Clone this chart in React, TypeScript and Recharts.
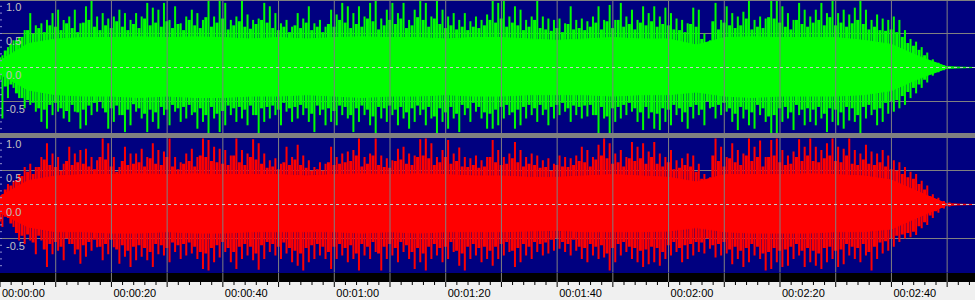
import React from "react";
import {
  ComposedChart,
  Bar,
  Area,
  XAxis,
  YAxis,
  CartesianGrid,
  ReferenceLine,
} from "recharts";

// peak values per second (t = 0..174), left (green) and right (red) channel
const greenHi = [
  0.18, 0.30, 0.40, 0.45, 0.55, 0.80, 0.62, 0.65, 0.70, 0.80, 0.85, 0.70, 0.75, 0.85, 0.65, 0.90, 1.00, 0.75, 0.80, 0.72, 0.75, 0.85, 0.80, 0.70, 0.80, 0.75, 0.95, 0.88, 0.85,
  0.95, 0.70, 0.90, 0.65, 0.75, 0.85, 0.80, 0.70, 1.00, 0.75, 1.00, 0.95, 0.70, 0.75, 0.98, 0.78, 0.70, 0.72, 0.95, 0.90, 0.80, 0.65, 0.70, 0.60, 0.80, 0.72, 0.90, 0.65, 0.70, 0.60,
  0.85, 0.78, 0.95, 0.90, 0.80, 0.90, 0.75, 0.95, 1.00, 0.72, 0.85, 0.95, 0.80, 0.95, 0.70, 0.85, 1.00, 0.95, 0.75, 1.00, 0.85, 0.75, 0.80, 0.70, 0.80, 0.68, 0.75, 0.70, 0.78,
  1.00, 0.95, 1.00, 0.75, 0.90, 0.85, 0.70, 0.75, 1.00, 0.75, 0.72, 0.70, 0.72, 0.65, 0.90, 0.70, 0.72, 0.68, 0.75, 0.90, 0.70, 0.92, 0.70, 0.95, 0.75, 0.85, 0.70, 0.90, 0.80,
  0.90, 0.75, 0.88, 0.80, 0.72, 0.70, 0.65, 0.88, 0.85, 0.50, 0.40, 0.95, 0.70, 0.90, 0.80, 0.75, 0.82, 1.00, 0.70, 0.75, 0.72, 1.00, 1.00, 0.90, 0.80, 0.70, 0.95, 0.85, 0.75,
  0.85, 0.95, 0.80, 1.00, 0.80, 0.85, 0.78, 0.88, 0.98, 0.85, 0.70, 0.78, 0.72, 0.70, 0.75, 0.70, 0.55, 0.42, 0.38, 0.30, 0.22, 0.12, 0.07, 0.03, 0.02, 0.01, 0, 0, 0,
];
const greenLo = [
  -0.75, -0.45, -0.30, -0.45, -0.60, -0.55, -0.65, -0.80, -0.90, -0.70, -0.65, -0.75, -0.80, -0.65, -0.90, -0.85, -0.70, -0.65, -0.60, -0.90, -0.80, -0.70, -0.95, -0.85, -0.65, -0.75, -0.95, -0.80, -0.90,
  -0.70, -0.85, -0.65, -0.80, -0.75, -0.70, -0.90, -0.80, -0.98, -0.75, -0.95, -0.85, -0.70, -0.80, -0.75, -0.85, -0.70, -0.98, -0.80, -0.75, -0.70, -0.85, -0.65, -0.80, -0.75, -0.70, -0.80, -0.95, -0.70, -0.85,
  -0.80, -0.85, -0.70, -0.75, -0.95, -0.80, -0.70, -0.85, -0.98, -0.75, -0.80, -0.70, -0.85, -0.75, -0.90, -0.80, -0.70, -0.85, -0.75, -0.98, -0.80, -0.90, -0.75, -0.95, -0.70, -0.80, -0.65, -0.75, -0.90,
  -0.90, -0.85, -0.75, -0.70, -0.90, -0.85, -0.75, -0.70, -0.80, -0.70, -0.85, -0.75, -0.70, -0.65, -0.80, -0.70, -0.75, -0.72, -0.70, -0.98, -0.75, -1.00, -0.80, -0.75, -0.70, -0.65, -0.80, -0.92, -0.75,
  -0.90, -0.92, -0.80, -0.85, -0.70, -0.80, -0.90, -0.75, -0.70, -0.85, -0.60, -0.75, -0.70, -0.65, -0.80, -0.92, -0.75, -0.85, -0.90, -0.70, -0.80, -1.00, -0.98, -0.80, -0.75, -0.92, -0.70, -0.85, -0.80,
  -0.85, -0.75, -0.95, -0.80, -0.85, -0.90, -0.78, -0.80, -0.98, -0.75, -0.70, -0.85, -0.80, -0.68, -0.65, -0.60, -0.55, -0.45, -0.38, -0.30, -0.22, -0.12, -0.07, -0.04, -0.02, -0.01, 0, 0, 0,
];
const redHi = [
  0.15, 0.30, 0.35, 0.45, 0.55, 0.60, 0.55, 0.70, 0.90, 0.75, 0.70, 0.60, 0.85, 0.75, 0.80, 0.82, 0.70, 0.65, 0.97, 0.90, 0.70, 0.55, 0.85, 0.75, 0.75, 0.82, 0.70, 0.90, 0.80,
  0.78, 0.97, 0.70, 0.62, 0.75, 0.82, 0.70, 0.97, 0.95, 0.85, 0.82, 0.80, 0.72, 0.97, 0.80, 0.75, 0.96, 0.90, 0.75, 0.65, 0.68, 0.60, 0.85, 0.70, 0.88, 0.72, 0.65, 0.55, 0.62, 0.60,
  0.85, 0.70, 0.75, 0.78, 0.80, 0.97, 0.70, 0.75, 0.97, 0.72, 0.68, 0.65, 0.82, 0.85, 0.75, 0.72, 0.96, 0.97, 0.90, 0.70, 0.80, 0.95, 0.75, 0.84, 0.70, 0.68, 0.72, 0.65, 0.70,
  0.95, 0.80, 0.70, 0.75, 0.92, 0.80, 0.70, 0.75, 0.72, 0.65, 0.68, 0.60, 0.72, 0.70, 0.68, 0.72, 0.85, 0.80, 0.70, 0.88, 0.97, 0.90, 0.75, 0.80, 0.70, 0.92, 0.85, 0.90, 0.78,
  0.92, 0.75, 0.70, 0.80, 0.65, 0.68, 0.75, 0.72, 0.60, 0.45, 0.40, 0.97, 0.85, 0.70, 0.90, 0.80, 0.75, 0.97, 0.85, 0.94, 0.70, 0.95, 0.97, 0.80, 0.72, 0.78, 0.96, 0.85, 0.97,
  0.85, 0.80, 0.90, 0.97, 0.85, 0.82, 0.97, 0.80, 0.75, 0.88, 0.78, 0.75, 0.80, 0.72, 0.65, 0.62, 0.55, 0.48, 0.45, 0.35, 0.28, 0.15, 0.10, 0.05, 0.03, 0.01, 0, 0, 0,
];
const redLo = [
  -0.33, -0.20, -0.33, -0.53, -0.58, -0.53, -0.73, -0.53, -0.92, -0.73, -0.68, -0.82, -0.58, -0.73, -0.87, -0.77, -0.68, -0.63, -0.82, -0.73, -0.63, -0.87, -0.77, -0.92, -0.82, -0.77, -0.82, -0.92, -0.73,
  -0.75, -0.85, -0.70, -0.80, -0.75, -0.72, -0.80, -0.95, -0.97, -0.85, -0.78, -0.70, -0.85, -0.95, -0.80, -0.75, -0.82, -0.96, -0.80, -0.70, -0.75, -0.80, -0.72, -0.85, -0.90, -0.97, -0.85, -0.80, -0.75, -0.80,
  -0.95, -0.80, -0.75, -0.85, -0.80, -0.97, -0.75, -0.80, -0.70, -0.97, -0.80, -0.75, -0.85, -0.70, -0.80, -0.95, -0.85, -0.97, -0.80, -0.75, -0.85, -0.80, -0.70, -0.90, -0.97, -0.80, -0.75, -0.85, -0.80,
  -0.90, -0.80, -0.75, -0.70, -0.92, -0.85, -0.75, -0.80, -0.70, -0.75, -0.72, -0.68, -0.65, -0.70, -0.75, -0.68, -0.80, -0.85, -0.75, -0.80, -0.78, -0.97, -0.85, -0.75, -0.70, -0.80, -0.85, -0.92, -0.88,
  -0.85, -0.90, -0.80, -0.75, -0.70, -0.85, -0.80, -0.75, -0.70, -0.72, -0.65, -0.78, -0.75, -0.72, -0.88, -0.80, -0.92, -0.85, -0.75, -0.80, -0.97, -0.95, -0.85, -0.92, -0.90, -0.80, -0.75, -0.92, -0.85,
  -0.90, -0.95, -0.85, -0.80, -0.92, -0.88, -0.75, -0.80, -0.85, -0.75, -0.97, -0.80, -0.72, -0.68, -0.62, -0.55, -0.50, -0.48, -0.45, -0.35, -0.30, -0.20, -0.12, -0.06, -0.03, -0.01, 0, 0, 0,
];

// secondary (lower) peaks, on the whole seconds between the main peaks
const greenMidHi = [
  0.15, 0.25, 0.35, 0.40, 0.45, 0.55, 0.50, 0.58, 0.52, 0.62, 0.60, 0.55, 0.65, 0.58, 0.52, 0.66, 0.70, 0.60, 0.55, 0.62, 0.58, 0.68, 0.60, 0.55, 0.64, 0.58, 0.72, 0.62, 0.66, 0.60,
  0.68, 0.58, 0.64, 0.55, 0.70, 0.62, 0.58, 0.74, 0.60, 0.66, 0.72, 0.56, 0.62, 0.68, 0.60, 0.57, 0.64, 0.70, 0.66, 0.58, 0.55, 0.60, 0.52, 0.62, 0.58, 0.66, 0.55, 0.60, 0.52, 0.64,
  0.60, 0.70, 0.66, 0.58, 0.64, 0.60, 0.72, 0.68, 0.56, 0.62, 0.70, 0.64, 0.72, 0.58, 0.62, 0.74, 0.70, 0.60, 0.72, 0.64, 0.58, 0.62, 0.56, 0.60, 0.55, 0.60, 0.58, 0.62, 0.70, 0.66,
  0.72, 0.60, 0.66, 0.62, 0.55, 0.60, 0.70, 0.58, 0.56, 0.54, 0.58, 0.52, 0.64, 0.56, 0.58, 0.55, 0.60, 0.66, 0.56, 0.68, 0.58, 0.70, 0.60, 0.64, 0.56, 0.66, 0.62, 0.68, 0.60, 0.64,
  0.62, 0.56, 0.55, 0.52, 0.64, 0.60, 0.42, 0.36, 0.68, 0.56, 0.66, 0.62, 0.58, 0.62, 0.72, 0.56, 0.60, 0.58, 0.74, 0.72, 0.66, 0.60, 0.56, 0.70, 0.64, 0.60, 0.66, 0.70, 0.62, 0.74,
  0.62, 0.66, 0.60, 0.65, 0.70, 0.64, 0.56, 0.60, 0.55, 0.54, 0.56, 0.52, 0.45, 0.36, 0.32, 0.26, 0.18, 0.10, 0.05, 0.02, 0.015, 0.01, 0, 0, 0,
];
const greenMidLo = [
  -0.18, -0.28, -0.25, -0.38, -0.45, -0.48, -0.52, -0.60, -0.62, -0.55, -0.52, -0.60, -0.64, -0.55, -0.66, -0.62, -0.56, -0.52, -0.50, -0.66, -0.60, -0.56, -0.70, -0.62, -0.54, -0.60, -0.68, -0.62, -0.66, -0.58,
  -0.62, -0.55, -0.60, -0.58, -0.55, -0.66, -0.60, -0.70, -0.58, -0.68, -0.64, -0.56, -0.60, -0.58, -0.62, -0.56, -0.70, -0.60, -0.58, -0.56, -0.62, -0.52, -0.60, -0.58, -0.55, -0.60, -0.68, -0.56, -0.62, -0.60,
  -0.64, -0.56, -0.58, -0.70, -0.60, -0.56, -0.62, -0.72, -0.58, -0.60, -0.56, -0.62, -0.58, -0.66, -0.60, -0.56, -0.62, -0.58, -0.72, -0.60, -0.66, -0.58, -0.68, -0.55, -0.60, -0.52, -0.58, -0.66, -0.68, -0.62,
  -0.58, -0.55, -0.66, -0.62, -0.58, -0.55, -0.60, -0.55, -0.62, -0.58, -0.55, -0.52, -0.60, -0.56, -0.58, -0.56, -0.55, -0.70, -0.58, -0.72, -0.60, -0.58, -0.55, -0.52, -0.60, -0.66, -0.58, -0.66, -0.68, -0.60,
  -0.62, -0.55, -0.60, -0.66, -0.58, -0.55, -0.62, -0.50, -0.58, -0.55, -0.52, -0.60, -0.68, -0.58, -0.62, -0.66, -0.55, -0.60, -0.72, -0.70, -0.60, -0.58, -0.66, -0.55, -0.62, -0.60, -0.62, -0.58, -0.68, -0.60,
  -0.62, -0.66, -0.58, -0.60, -0.70, -0.58, -0.55, -0.62, -0.60, -0.52, -0.50, -0.48, -0.42, -0.36, -0.30, -0.25, -0.18, -0.10, -0.05, -0.03, -0.015, -0.01, 0, 0, 0,
];
const redMidHi = [
  0.12, 0.22, 0.28, 0.36, 0.42, 0.48, 0.45, 0.55, 0.66, 0.58, 0.55, 0.50, 0.64, 0.58, 0.62, 0.60, 0.56, 0.52, 0.70, 0.66, 0.56, 0.48, 0.64, 0.58, 0.60, 0.62, 0.56, 0.68, 0.60, 0.58,
  0.70, 0.56, 0.52, 0.60, 0.64, 0.56, 0.72, 0.70, 0.64, 0.62, 0.60, 0.58, 0.72, 0.62, 0.58, 0.70, 0.66, 0.60, 0.54, 0.56, 0.52, 0.62, 0.58, 0.66, 0.58, 0.54, 0.50, 0.52, 0.50, 0.62,
  0.58, 0.60, 0.62, 0.64, 0.72, 0.56, 0.60, 0.72, 0.58, 0.55, 0.54, 0.64, 0.66, 0.60, 0.58, 0.70, 0.72, 0.68, 0.58, 0.62, 0.70, 0.60, 0.64, 0.56, 0.55, 0.58, 0.54, 0.56, 0.70, 0.62,
  0.58, 0.60, 0.68, 0.62, 0.56, 0.60, 0.58, 0.54, 0.55, 0.50, 0.58, 0.56, 0.55, 0.58, 0.64, 0.62, 0.56, 0.66, 0.72, 0.68, 0.60, 0.62, 0.56, 0.68, 0.64, 0.68, 0.60, 0.70, 0.60, 0.56,
  0.62, 0.52, 0.54, 0.58, 0.56, 0.48, 0.38, 0.34, 0.72, 0.64, 0.56, 0.68, 0.62, 0.58, 0.72, 0.64, 0.70, 0.56, 0.70, 0.72, 0.62, 0.58, 0.60, 0.70, 0.64, 0.72, 0.64, 0.62, 0.68, 0.72,
  0.64, 0.62, 0.72, 0.60, 0.58, 0.66, 0.60, 0.58, 0.62, 0.56, 0.52, 0.50, 0.45, 0.40, 0.38, 0.30, 0.22, 0.12, 0.08, 0.04, 0.02, 0.01, 0, 0, 0,
];
const redMidLo = [
  -0.25, -0.18, -0.28, -0.42, -0.46, -0.44, -0.56, -0.46, -0.66, -0.58, -0.55, -0.62, -0.50, -0.58, -0.66, -0.60, -0.55, -0.52, -0.62, -0.58, -0.52, -0.66, -0.60, -0.68, -0.62, -0.60, -0.64, -0.70, -0.58, -0.60,
  -0.64, -0.56, -0.60, -0.58, -0.56, -0.62, -0.70, -0.72, -0.64, -0.60, -0.55, -0.64, -0.70, -0.62, -0.58, -0.62, -0.72, -0.60, -0.55, -0.58, -0.62, -0.56, -0.64, -0.68, -0.72, -0.64, -0.60, -0.58, -0.62, -0.70,
  -0.62, -0.58, -0.64, -0.60, -0.72, -0.58, -0.62, -0.55, -0.72, -0.62, -0.58, -0.64, -0.55, -0.60, -0.70, -0.64, -0.72, -0.62, -0.58, -0.64, -0.62, -0.55, -0.68, -0.72, -0.62, -0.58, -0.64, -0.62, -0.68, -0.62,
  -0.58, -0.55, -0.68, -0.64, -0.58, -0.62, -0.55, -0.58, -0.56, -0.52, -0.50, -0.55, -0.58, -0.52, -0.62, -0.64, -0.58, -0.62, -0.60, -0.72, -0.64, -0.58, -0.55, -0.62, -0.64, -0.68, -0.66, -0.62, -0.64, -0.70,
  -0.60, -0.55, -0.64, -0.60, -0.58, -0.55, -0.56, -0.50, -0.60, -0.58, -0.55, -0.66, -0.62, -0.68, -0.64, -0.58, -0.62, -0.72, -0.70, -0.64, -0.68, -0.66, -0.62, -0.58, -0.68, -0.64, -0.68, -0.72, -0.64, -0.62,
  -0.68, -0.66, -0.58, -0.62, -0.64, -0.58, -0.70, -0.62, -0.56, -0.54, -0.50, -0.46, -0.44, -0.42, -0.40, -0.32, -0.26, -0.16, -0.10, -0.05, -0.02, -0.01, 0, 0, 0,
];

// solid core of the waveform, every 5 seconds
const bodyTimes = [0, 5, 10, 15, 20, 25, 30, 35, 40, 45, 50, 55, 60, 65, 70, 75, 80, 85, 90, 95, 100, 105, 110, 115, 120, 125, 130, 135, 140, 145, 150, 155, 160, 165, 170, 175];
const greenBodyHi = [0.10, 0.35, 0.42, 0.44, 0.44, 0.45, 0.44, 0.45, 0.44, 0.42, 0.44, 0.42, 0.44, 0.45, 0.44, 0.44, 0.42, 0.44, 0.44, 0.42, 0.40, 0.42, 0.44, 0.42, 0.42, 0.33, 0.44, 0.45, 0.44, 0.44, 0.44, 0.40, 0.34, 0.16, 0.01, 0];
const greenBodyLo = [-0.10, -0.33, -0.40, -0.42, -0.42, -0.44, -0.42, -0.44, -0.44, -0.42, -0.42, -0.40, -0.42, -0.44, -0.42, -0.42, -0.40, -0.42, -0.42, -0.40, -0.40, -0.40, -0.42, -0.40, -0.40, -0.36, -0.42, -0.44, -0.42, -0.42, -0.42, -0.40, -0.34, -0.16, -0.01, 0];
const redBodyHi = [0.12, 0.35, 0.42, 0.44, 0.44, 0.45, 0.44, 0.45, 0.44, 0.44, 0.44, 0.42, 0.44, 0.45, 0.44, 0.45, 0.44, 0.42, 0.42, 0.40, 0.40, 0.42, 0.44, 0.42, 0.40, 0.33, 0.44, 0.44, 0.44, 0.45, 0.44, 0.42, 0.36, 0.18, 0.01, 0];
const redBodyLo = [-0.12, -0.33, -0.40, -0.40, -0.42, -0.42, -0.40, -0.42, -0.42, -0.40, -0.40, -0.40, -0.40, -0.42, -0.40, -0.42, -0.40, -0.40, -0.40, -0.39, -0.38, -0.40, -0.40, -0.40, -0.39, -0.34, -0.40, -0.42, -0.42, -0.42, -0.40, -0.40, -0.36, -0.18, -0.01, 0];

const gridTimes = [10, 20, 30, 40, 50, 60, 70, 80, 90, 100, 110, 120, 130, 140, 150, 160, 170];
const labelTimes = [0, 20, 40, 60, 80, 100, 120, 140, 160];
const rulerTicks = [
  0, 2, 4, 6, 8, 10, 12, 14, 16, 18, 20, 22, 24, 26, 28, 30, 32, 34, 36, 38, 40, 42, 44, 46, 48, 50, 52, 54, 56, 58,
  60, 62, 64, 66, 68, 70, 72, 74, 76, 78, 80, 82, 84, 86, 88, 90, 92, 94, 96, 98, 100, 102, 104, 106, 108, 110, 112, 114, 116, 118,
  120, 122, 124, 126, 128, 130, 132, 134, 136, 138, 140, 142, 144, 146, 148, 150, 152, 154, 156, 158, 160, 162, 164, 166, 168, 170, 172, 174,
];
const levelTicks = [0.9, 0.8, 0.7, 0.6, 0.4, 0.3, 0.2, 0.1, -0.1, -0.2, -0.3, -0.4, -0.6, -0.7, -0.8, -0.9];
const levelLabels = [1, 0.5, 0, -0.5];

const NAVY = "#000080";
const GRID = "#808080";
const FONT = "'Liberation Sans', Arial, sans-serif";

function pad(n: number) {
  return n < 10 ? "0" + n : String(n);
}

function fmtTime(s: number) {
  return `00:${pad(Math.floor(s / 60))}:${pad(s % 60)}`;
}

function RulerTick(props: any) {
  const { x, y, payload } = props;
  const v = payload.value;
  const big = v % 10 === 0;
  return (
    <g>
      <line x1={x} x2={x} y1={y} y2={y + (big ? 5 : 3)} stroke="#000" />
      {labelTimes.includes(v) && (
        <text x={x + 2} y={y + 15} fill="#000" fontSize={11} fontFamily={FONT}>
          {fmtTime(v)}
        </text>
      )}
    </g>
  );
}

function levelLabel(v: number) {
  return (p: any) => {
    const vb = p.viewBox || {};
    return (
      <g>
        <line x1={0} x2={2} y1={vb.y} y2={vb.y} stroke="#9090d0" />
        <text x={6} y={vb.y + 11} fill="#c0c0c0" fontSize={11} fontFamily={FONT}>
          {v.toFixed(1)}
        </text>
      </g>
    );
  };
}

function Channel({ hi, lo, midHi, midLo, bodyHi, bodyLo, color }: any) {
  const rows = hi.map((v: number, i: number) => ({
    tp: i + 0.5,
    tm: i,
    peak: [lo[i] ?? 0, v],
    mid: [midLo[i] ?? 0, midHi[i] ?? 0],
  }));
  const body = bodyTimes.map((t, i) => ({ tp: t, range: [bodyLo[i], bodyHi[i]] }));
  return (
    <ComposedChart
      width={975}
      height={137}
      data={rows}
      margin={{ top: 0.5, right: 0, bottom: 0.5, left: 0 }}
    >
      <CartesianGrid vertical={false} horizontalValues={[-1, -0.5, 0.5, 1]} stroke={GRID} />
      <XAxis xAxisId="p" type="number" dataKey="tp" domain={[0, 175]} hide allowDataOverflow />
      <XAxis xAxisId="m" type="number" dataKey="tm" domain={[0, 175]} hide allowDataOverflow />
      <YAxis type="number" domain={[-1, 1]} hide allowDataOverflow />
      <Area
        xAxisId="p"
        data={body}
        dataKey="range"
        type="linear"
        fill={color}
        fillOpacity={1}
        stroke={color}
        strokeWidth={1}
        isAnimationActive={false}
      />
      <Bar xAxisId="m" dataKey="mid" fill={color} barSize={3} isAnimationActive={false} />
      <Bar xAxisId="p" dataKey="peak" fill={color} barSize={2} isAnimationActive={false} />
      {gridTimes.map((t) => (
        <ReferenceLine key={t} xAxisId="p" x={t} stroke={GRID} />
      ))}
      <ReferenceLine xAxisId="p" y={0} stroke="#c8c8c8" strokeDasharray="3 3" />
      {levelTicks.map((v) => (
        <ReferenceLine
          key={"t" + v}
          xAxisId="p"
          segment={[{ x: 0, y: v }, { x: 0.36, y: v }]}
          stroke="#9090d0"
        />
      ))}
      {levelLabels.map((v) => (
        <ReferenceLine key={"l" + v} xAxisId="p" y={v} stroke="none" label={levelLabel(v)} />
      ))}
    </ComposedChart>
  );
}

export default function App() {
  const rulerData = rulerTicks.map((t) => ({ t }));
  return (
    <div
      style={{
        position: "absolute",
        left: 0,
        top: 0,
        width: 975,
        height: 300,
        background: "#f0f0f0",
        overflow: "hidden",
      }}
    >
      <div style={{ position: "absolute", left: 0, top: 0, width: 975, height: 133, background: NAVY, overflow: "hidden" }}>
        <div style={{ position: "absolute", left: 0, top: -1 }}>
          <Channel
            hi={greenHi}
            lo={greenLo}
            midHi={greenMidHi}
            midLo={greenMidLo}
            bodyHi={greenBodyHi}
            bodyLo={greenBodyLo}
            color="#00ff00"
          />
        </div>
        <div style={{ position: "absolute", left: 0, top: 0, width: 975, height: 1, background: GRID }} />
      </div>
      <div style={{ position: "absolute", left: 0, top: 133, width: 975, height: 5, background: GRID }} />
      <div style={{ position: "absolute", left: 0, top: 138, width: 975, height: 135, background: NAVY, overflow: "hidden" }}>
        <div style={{ position: "absolute", left: 0, top: -2 }}>
          <Channel
            hi={redHi}
            lo={redLo}
            midHi={redMidHi}
            midLo={redMidLo}
            bodyHi={redBodyHi}
            bodyLo={redBodyLo}
            color="#ff0000"
          />
        </div>
      </div>
      <div style={{ position: "absolute", left: 0, top: 273 }}>
        <ComposedChart width={975} height={27} data={rulerData} margin={{ top: 0, right: 0, bottom: 0, left: 0 }}>
          <CartesianGrid horizontal={false} verticalValues={gridTimes} stroke={GRID} fill="#000" />
          <XAxis
            type="number"
            dataKey="t"
            domain={[0, 175]}
            ticks={rulerTicks}
            interval={0}
            height={18}
            axisLine={false}
            tickLine={false}
            tickSize={0}
            tickMargin={0}
            tick={(p: any) => <RulerTick {...p} />}
            allowDataOverflow
          />
        </ComposedChart>
      </div>
    </div>
  );
}
